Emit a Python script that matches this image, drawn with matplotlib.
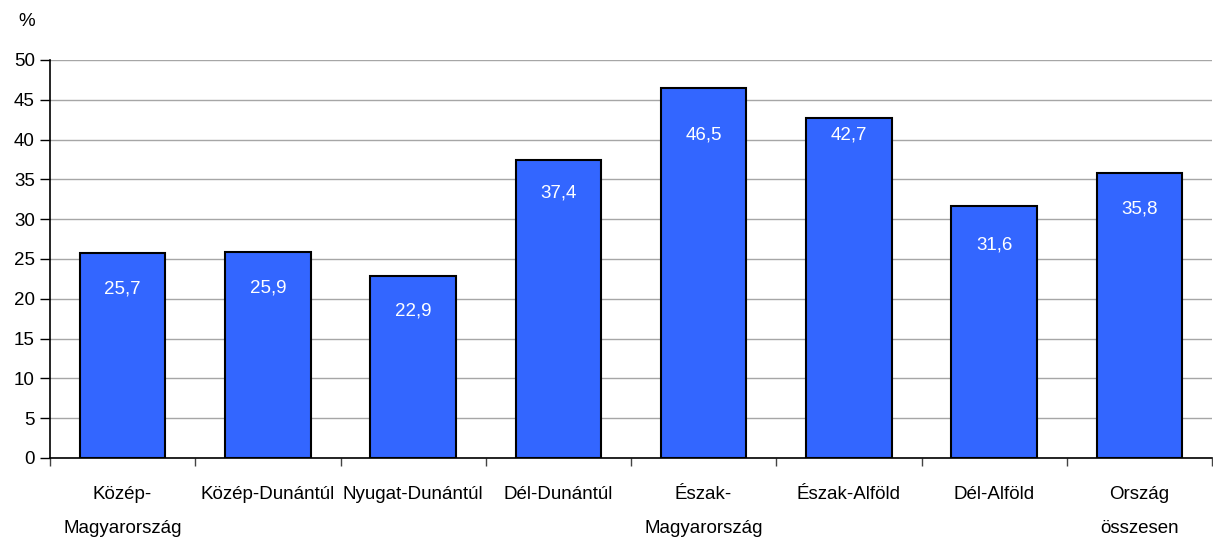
import matplotlib
matplotlib.use("Agg")
import matplotlib.pyplot as plt
from matplotlib.ticker import FixedLocator, MultipleLocator

categories = ["Közép-\nMagyarország", "Közép-Dunántúl", "Nyugat-Dunántúl", "Dél-Dunántúl",
              "Észak-\nMagyarország", "Észak-Alföld", "Dél-Alföld", "Ország\nösszesen"]
values = [25.7, 25.9, 22.9, 37.4, 46.5, 42.7, 31.6, 35.8]
value_labels = ["25,7", "25,9", "22,9", "37,4", "46,5", "42,7", "31,6", "35,8"]
# heights (in y units) where each value label sits
label_heights = [21.2, 21.3, 18.5, 33.3, 40.6, 40.6, 26.8, 31.3]

plt.rcParams['font.family'] = ['Liberation Sans', 'DejaVu Sans']
FS = 13.5

W, H = 1213, 539
fig = plt.figure(figsize=(W / 100, H / 100), dpi=100)
ax = fig.add_axes([50 / W, 81 / H, (1212 - 50) / W, (458 - 60) / H])

x = list(range(len(categories)))
ax.bar(x, values, width=0.59, color="#3366FF", edgecolor="black", linewidth=1.5, zorder=3)
for xi, lh, lab in zip(x, label_heights, value_labels):
    ax.text(xi, lh, lab, ha="center", va="center", color="white", fontsize=FS, zorder=4)

ax.set_xlim(-0.5, len(categories) - 0.5)
ax.set_ylim(0, 50)
ax.yaxis.set_major_locator(MultipleLocator(5))
ax.grid(axis="y", color="#a6a6a6", linewidth=1.0, zorder=0)

ax.set_xticks(x)
ax.set_xticklabels(categories, fontsize=FS, linespacing=2.3, va="top")
ax.tick_params(axis="x", which="major", length=0, pad=20)
ax.xaxis.set_minor_locator(FixedLocator([i - 0.5 for i in range(len(categories) + 1)]))
ax.tick_params(axis="x", which="minor", length=6, width=1, color="#444444", direction="out")
ax.tick_params(axis="y", length=7, width=1, color="black", labelsize=FS, pad=4)

for s in ["top", "right"]:
    ax.spines[s].set_visible(False)
ax.spines["left"].set_color("black")
ax.spines["left"].set_linewidth(1.2)
ax.spines["bottom"].set_color("black")
ax.spines["bottom"].set_linewidth(1.2)

fig.text(27 / W, 1 - 22 / H, "%", fontsize=FS, ha="center", va="center")

fig.savefig("out.png", dpi=100)
